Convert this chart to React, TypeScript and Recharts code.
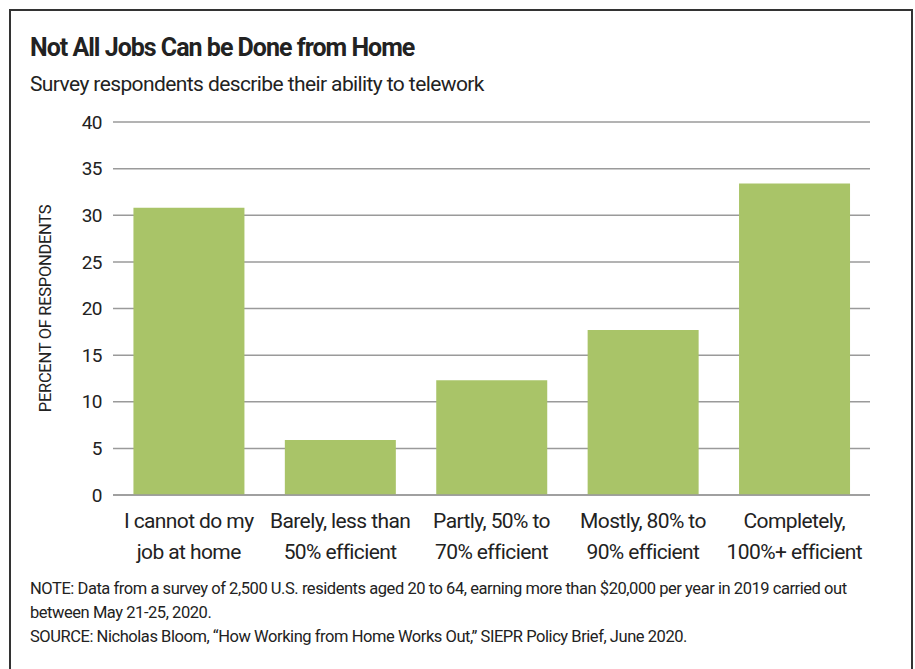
import { BarChart, Bar, XAxis, YAxis, CartesianGrid } from "recharts";

const categories = [
  "I cannot do my\njob at home",
  "Barely, less than\n50% efficient",
  "Partly, 50% to\n70% efficient",
  "Mostly, 80% to\n90% efficient",
  "Completely,\n100%+ efficient",
];
const percentValues = [30.8, 5.9, 12.3, 17.7, 33.4];
const yTicks = [0, 5, 10, 15, 20, 25, 30, 35, 40];

const FONT = 'Roboto, "Liberation Sans", sans-serif';
const BAR_GREEN = "#a9c468";
const GRID_GRAY = "#9a9a9a";

const data = categories.map((name, i) => ({ name, value: percentValues[i] }));

const CategoryTick = (props: any) => {
  const { x, y, payload } = props;
  const lines = String(payload.value).split("\n");
  return (
    <g transform={`translate(${x},${y})`}>
      {lines.map((line, i) => (
        <text
          key={i}
          x={0}
          y={27 + i * 31}
          textAnchor="middle"
          fill="#222"
          fontSize={21}
          letterSpacing={-0.6}
          fontFamily={FONT}
        >
          {line}
        </text>
      ))}
    </g>
  );
};

const YLabel = (props: any) => {
  const { viewBox } = props;
  const cy = viewBox.y + viewBox.height / 2;
  return (
    <text
      x={51}
      y={cy}
      transform={`rotate(-90, 51, ${cy})`}
      textAnchor="middle"
      fill="#222"
      fontSize={16.5}
      letterSpacing={-0.3}
      fontFamily={FONT}
    >
      PERCENT OF RESPONDENTS
    </text>
  );
};

export default function App() {
  return (
    <div
      style={{
        position: "absolute",
        left: 0,
        top: 0,
        width: 915,
        height: 669,
        overflow: "hidden",
        background: "#fff",
        fontFamily: FONT,
        color: "#222",
      }}
    >
      <div
        style={{
          position: "absolute",
          left: 9,
          top: 9,
          width: 904,
          height: 700,
          border: "2.5px solid #333",
          boxSizing: "border-box",
        }}
      />
      <div
        style={{
          position: "absolute",
          left: 30,
          top: 33,
          fontSize: 25,
          fontWeight: 700,
          letterSpacing: -1,
          whiteSpace: "nowrap",
        }}
      >
        Not All Jobs Can be Done from Home
      </div>
      <div
        style={{
          position: "absolute",
          left: 30,
          top: 72,
          fontSize: 21,
          letterSpacing: -0.6,
          whiteSpace: "nowrap",
        }}
      >
        Survey respondents describe their ability to telework
      </div>

      <div style={{ position: "absolute", left: 0, top: 0 }}>
        <BarChart
          width={915}
          height={669}
          data={data}
          margin={{ top: 122, right: 45, bottom: 94, left: 73 }}
          barCategoryGap="13.5%"
        >
          <CartesianGrid vertical={false} stroke={GRID_GRAY} strokeWidth={1.5} />
          <XAxis
            dataKey="name"
            tick={<CategoryTick />}
            tickLine={false}
            axisLine={{ stroke: GRID_GRAY, strokeWidth: 1.5 }}
            interval={0}
            height={80}
            tickMargin={0}
          />
          <YAxis
            domain={[0, 40]}
            ticks={yTicks}
            width={40}
            tickLine={false}
            axisLine={false}
            tickSize={0}
            tickMargin={11}
            tick={{ fill: "#222", fontSize: 19, fontFamily: FONT, letterSpacing: -0.5 }}
            label={<YLabel />}
          />
          <Bar dataKey="value" fill={BAR_GREEN} isAnimationActive={false} />
        </BarChart>
      </div>

      <div
        style={{
          position: "absolute",
          left: 30,
          top: 577,
          fontSize: 16.5,
          lineHeight: "24px",
          letterSpacing: -0.45,
          whiteSpace: "nowrap",
        }}
      >
        NOTE: Data from a survey of 2,500 U.S. residents aged 20 to 64, earning more than $20,000 per year in 2019 carried out
        <br />
        between May 21-25, 2020.
        <br />
        SOURCE: Nicholas Bloom, “How Working from Home Works Out,” SIEPR Policy Brief, June 2020.
      </div>
    </div>
  );
}
